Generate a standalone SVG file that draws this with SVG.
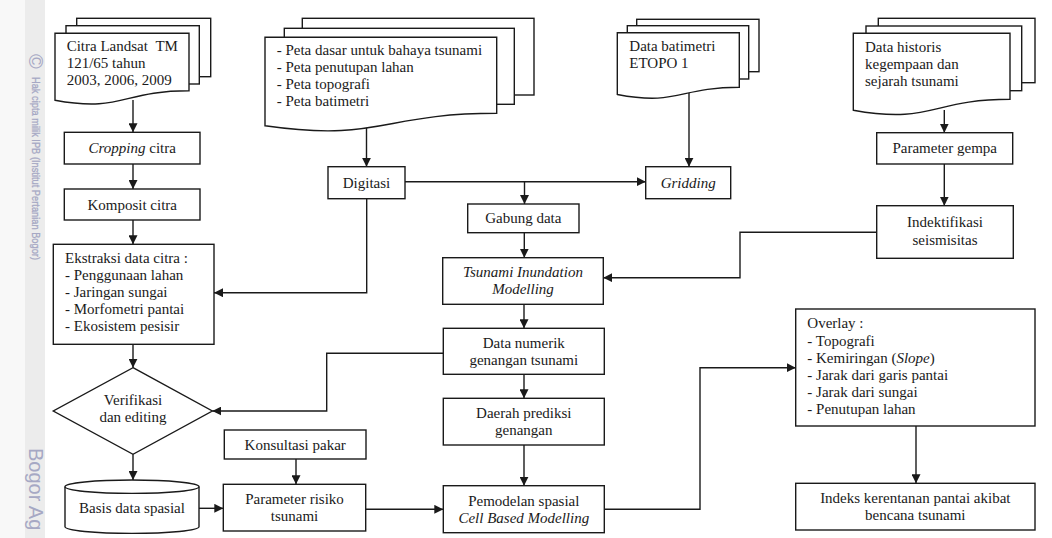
<svg xmlns="http://www.w3.org/2000/svg" width="1052" height="538" viewBox="0 0 1052 538">
<style>
.n{fill:#fff;stroke:#1a1a1a;stroke-width:1.4}
.t{font-family:"Liberation Serif","Times New Roman",serif;font-size:15px;fill:#1a1a1a}
.c{text-anchor:middle}
.i{font-style:italic}
.e{fill:none;stroke:#1a1a1a;stroke-width:1.4}
.wm{font-family:"Liberation Sans",Arial,sans-serif;fill:#a6a8c4}
</style>
<defs>
<marker id="ah" markerUnits="userSpaceOnUse" markerWidth="9" markerHeight="9" viewBox="0 0 10 10" refX="10" refY="5" orient="auto">
<path d="M0,0 L10,5 L0,10 z" fill="#1a1a1a"/>
</marker>
</defs>
<rect width="1052" height="538" fill="#fff"/>
<g id="watermark">
<rect x="0" y="0" width="25" height="538" fill="#f8f8f8"/>
<rect x="25" y="0" width="20" height="538" fill="#ececec"/>
<text class="wm" transform="translate(28.5,54) rotate(90)" font-size="20">©</text>
<text class="wm" transform="translate(32,77) rotate(90)" font-size="11.5" stroke="#a6a8c4" stroke-width="0.3" textLength="183" lengthAdjust="spacingAndGlyphs">Hak cipta milik IPB (Institut Pertanian Bogor)</text>
<text class="wm" transform="translate(29,448) rotate(90)" font-size="20" fill="#9ea0b8">Bogor Ag</text>
</g>
<g id="connectors" class="e" marker-end="url(#ah)">
<path d="M133,100 V132.3"/>
<path d="M133,164 V189"/>
<path d="M133,220 V244.3"/>
<path d="M366.5,125 V166.7"/>
<path d="M405,181.7 H645.7"/>
<path d="M524.5,181.7 V204"/>
<path d="M689,92 V166.7"/>
<path d="M366.7,198.7 V292.7 H214"/>
<path d="M524.3,232.7 V257.7"/>
<path d="M944.3,110 V132.7"/>
<path d="M944.3,164 V205.7"/>
<path d="M876.7,232.3 H740 V277.7 H603.3"/>
<path d="M524,304.3 V328.3"/>
<path d="M133,344.3 V367.7"/>
<path d="M443.3,353.3 H326.7 V411 H212.3"/>
<path d="M524,374.3 V398.3"/>
<path d="M524,445 V485.7"/>
<path d="M133,454.3 V480"/>
<path d="M199,508.3 H223.3"/>
<path d="M296,459 V484.3"/>
<path d="M365.7,509.3 H443.3"/>
<path d="M604.3,509.3 H700 V367.7 H795.7"/>
<path d="M916,426 V483.3"/>
</g>
<g id="doc-landsat">
<rect class="n" x="76.7" y="18.3" width="134" height="58.4"/>
<rect class="n" x="66" y="25.7" width="133.3" height="58.3"/>
<path class="n" d="M55,33.3 H189 V90.7 C122,90.7 122,112.6 55,100.2 Z"/>
<text class="t" x="66.7" y="50.7">Citra Landsat &#160;TM</text>
<text class="t" x="66.7" y="67.7">121/65 tahun</text>
<text class="t" x="66.7" y="84.7">2003, 2006, 2009</text>
</g>
<g id="doc-peta">
<rect class="n" x="302.3" y="18.3" width="231.7" height="76.7"/>
<rect class="n" x="284.3" y="28.3" width="230" height="76"/>
<path class="n" d="M265,37.3 H496.7 V113.3 C380.8,113.3 380.8,142.3 265,125.8 Z"/>
<text class="t" x="276.7" y="55">- Peta dasar untuk bahaya tsunami</text>
<text class="t" x="276.7" y="72">- Peta penutupan lahan</text>
<text class="t" x="276.7" y="89">- Peta topografi</text>
<text class="t" x="276.7" y="106">- Peta batimetri</text>
</g>
<g id="doc-batimetri">
<rect class="n" x="636.7" y="19.3" width="122.3" height="52.4"/>
<rect class="n" x="627.3" y="25.7" width="121.4" height="53.3"/>
<path class="n" d="M617.3,32.7 H739.3 V87.3 C678.3,87.3 678.3,106 617.3,94.5 Z"/>
<text class="t" x="629.3" y="50.7">Data batimetri</text>
<text class="t" x="629.3" y="67.7">ETOPO 1</text>
</g>
<g id="doc-historis">
<rect class="n" x="878.3" y="18.3" width="156.7" height="64.4"/>
<rect class="n" x="866" y="26" width="155.7" height="64.7"/>
<path class="n" d="M853.3,33.3 H1010 V99.3 C931.7,99.3 931.7,124.4 853.3,110.2 Z"/>
<text class="t" x="865" y="51.7">Data historis</text>
<text class="t" x="865" y="68.7">kegempaan dan</text>
<text class="t" x="865" y="85.7">sejarah tsunami</text>
</g>
<g id="cropping">
<rect class="n" x="64.3" y="132.3" width="135.7" height="31.7"/>
<text class="t c" x="132.2" y="153"><tspan class="i">Cropping</tspan> citra</text>
</g>
<g id="komposit">
<rect class="n" x="64.3" y="189" width="135.7" height="31"/>
<text class="t c" x="132.2" y="209.5">Komposit citra</text>
</g>
<g id="ekstraksi">
<rect class="n" x="53.3" y="244.3" width="160.7" height="100"/>
<text class="t" x="65" y="263.3">Ekstraksi data citra :</text>
<text class="t" x="65" y="280.3">- Penggunaan lahan</text>
<text class="t" x="65" y="297.3">- Jaringan sungai</text>
<text class="t" x="65" y="314.3">- Morfometri pantai</text>
<text class="t" x="65" y="331.3">- Ekosistem pesisir</text>
</g>
<g id="digitasi">
<rect class="n" x="328" y="166.7" width="77" height="32"/>
<text class="t c" x="366.5" y="187.7">Digitasi</text>
</g>
<g id="gridding">
<rect class="n" x="645.7" y="166.7" width="85" height="32"/>
<text class="t c i" x="688.2" y="187.7">Gridding</text>
</g>
<g id="gabung">
<rect class="n" x="467.7" y="204" width="111.3" height="28.7"/>
<text class="t c" x="523.3" y="223.4">Gabung data</text>
</g>
<g id="tsunami-inundation">
<rect class="n" x="442.7" y="257.7" width="160.6" height="46.6"/>
<text class="t c i" x="523" y="277.3">Tsunami Inundation</text>
<text class="t c i" x="523" y="294.3">Modelling</text>
</g>
<g id="parameter-gempa">
<rect class="n" x="876.7" y="132.7" width="136" height="31.3"/>
<text class="t c" x="944.7" y="153.4">Parameter gempa</text>
</g>
<g id="indektifikasi">
<rect class="n" x="876.7" y="205.7" width="136.6" height="52.6"/>
<text class="t c" x="945" y="227">Indektifikasi</text>
<text class="t c" x="945" y="244.5">seismisitas</text>
</g>
<g id="data-numerik">
<rect class="n" x="443.3" y="328.3" width="161" height="46"/>
<text class="t c" x="523.8" y="347.8">Data numerik</text>
<text class="t c" x="523.8" y="364.8">genangan tsunami</text>
</g>
<g id="daerah-prediksi">
<rect class="n" x="443.3" y="398.3" width="161" height="46.7"/>
<text class="t c" x="523.8" y="418.2">Daerah prediksi</text>
<text class="t c" x="523.8" y="435.2">genangan</text>
</g>
<g id="pemodelan">
<rect class="n" x="443.3" y="485.7" width="161" height="47"/>
<text class="t c" x="523.8" y="505.7">Pemodelan spasial</text>
<text class="t c i" x="523.8" y="522.7">Cell Based Modelling</text>
</g>
<g id="verifikasi">
<path class="n" d="M133,367.7 L212.3,411 L133,454.3 L53.3,411 Z"/>
<text class="t c" x="133" y="404.5">Verifikasi</text>
<text class="t c" x="133" y="421.5">dan editing</text>
</g>
<g id="basis-data">
<path class="n" d="M65,486.7 A67,6.7 0 0 1 199,486.7 V526.7 A67,6.7 0 0 1 65,526.7 Z"/>
<path class="e" d="M65,486.7 A67,6.7 0 0 0 199,486.7"/>
<text class="t c" x="132" y="513.3">Basis data spasial</text>
</g>
<g id="konsultasi">
<rect class="n" x="224.3" y="430" width="141.7" height="29"/>
<text class="t c" x="295.2" y="449.5">Konsultasi pakar</text>
</g>
<g id="parameter-risiko">
<rect class="n" x="223.3" y="484.3" width="142.4" height="46.7"/>
<text class="t c" x="294.5" y="504.2">Parameter risiko</text>
<text class="t c" x="294.5" y="521.2">tsunami</text>
</g>
<g id="overlay">
<rect class="n" x="795.7" y="309" width="239.3" height="117"/>
<text class="t" x="807.3" y="328.3">Overlay :</text>
<text class="t" x="807.3" y="345.5">- Topografi</text>
<text class="t" x="807.3" y="362.7">- Kemiringan (<tspan class="i">Slope</tspan>)</text>
<text class="t" x="807.3" y="379.9">- Jarak dari garis pantai</text>
<text class="t" x="807.3" y="397.1">- Jarak dari sungai</text>
<text class="t" x="807.3" y="414.3">- Penutupan lahan</text>
</g>
<g id="indeks">
<rect class="n" x="795.7" y="483.3" width="239.3" height="46.7"/>
<text class="t c" x="915.3" y="503.2">Indeks kerentanan pantai akibat</text>
<text class="t c" x="915.3" y="520.2">bencana tsunami</text>
</g>
</svg>
